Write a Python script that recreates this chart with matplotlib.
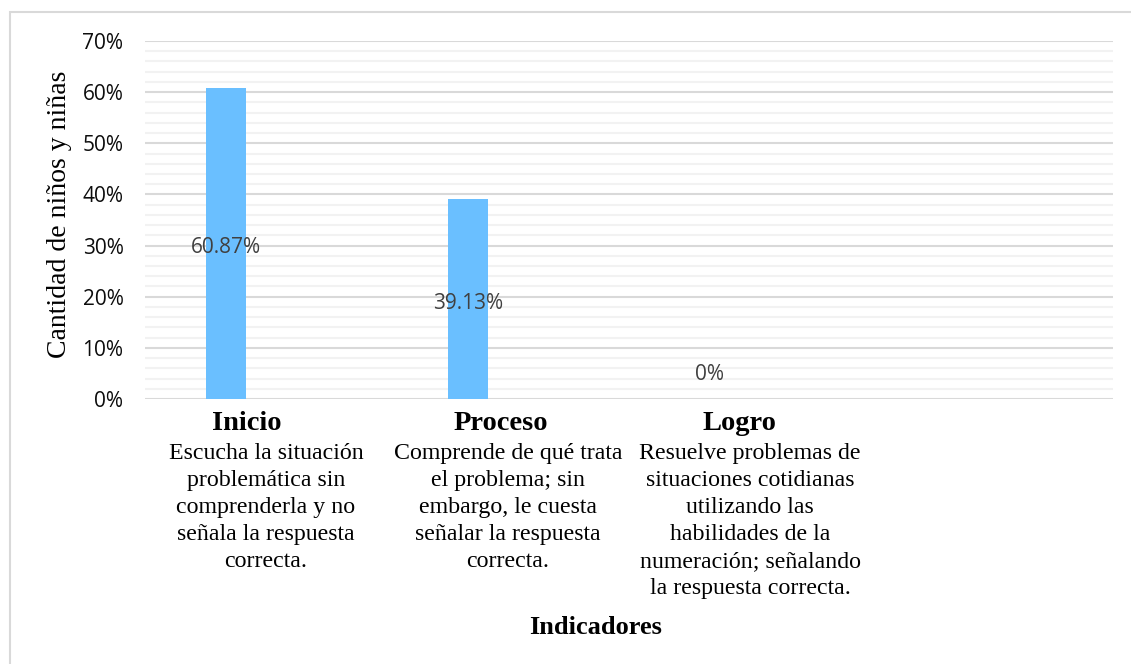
import matplotlib
matplotlib.use("Agg")
import matplotlib.pyplot as plt
from matplotlib.patches import Rectangle

categories = ["Inicio", "Proceso", "Logro", ""]
values = [60.87, 39.13, 0.0]
value_labels = ["60.87%", "39.13%", "0%"]
descriptions = [
    "Escucha la situación\nproblemática sin\ncomprenderla y no\nseñala la respuesta\ncorrecta.",
    "Comprende de qué trata\nel problema; sin\nembargo, le cuesta\nseñalar la respuesta\ncorrecta.",
    "Resuelve problemas de\nsituaciones cotidianas\nutilizando las\nhabilidades de la\nnumeración; señalando\nla respuesta correcta.",
]
yticks = [0, 10, 20, 30, 40, 50, 60, 70]
ytick_labels = ["0%", "10%", "20%", "30%", "40%", "50%", "60%", "70%"]

W, H = 1131, 664
fig = plt.figure(figsize=(W / 100, H / 100), dpi=100)
fig.patch.set_facecolor("white")

# outer chart-area border (only top/left visible)
fig.add_artist(Rectangle((10 / W, -0.01), 1.02, (H - 12) / H + 0.01,
                         transform=fig.transFigure, fill=False,
                         edgecolor="#d9d9d9", linewidth=1.5))

ax = fig.add_axes([145 / W, 1 - 399 / H, (1113 - 145) / W, (399 - 41) / H])
ax.set_xlim(-0.5, 3.5)
ax.set_ylim(0, 70)

for s in ax.spines.values():
    s.set_visible(False)

# gridlines
for v in range(2, 70, 2):
    if v % 10 != 0:
        ax.axhline(v, color="#f2f2f2", linewidth=1.5, zorder=0)
for v in yticks:
    ax.axhline(v, color="#d9d9d9", linewidth=1.5, zorder=1)

bar_w = 40 / 242
offset = -40 / 242
xs = [i + offset for i in range(len(values))]
ax.bar(xs, values, width=bar_w, color="#6abfff", zorder=2)

for x, v, lab in zip(xs, values, value_labels):
    y = v / 2 - 0.8 if v > 0 else 4.7
    ax.text(x, y, lab, ha="center", va="center", fontsize=15,
            color="#404040", family="Open Sans", zorder=3)

ax.set_yticks(yticks)
ax.set_yticklabels(ytick_labels, fontsize=15, family="Open Sans", color="#0d0d0d")
ax.tick_params(axis="y", length=0, pad=15.5)
ax.set_xticks([])

# category titles and descriptions
title_off = [-0.08, -0.03, -0.045]
for i, (cat, desc) in enumerate(zip(categories[:3], descriptions)):
    ax.text(i + title_off[i], -2.3, cat, ha="center", va="top",
            fontsize=20.5, fontweight="bold", family="Liberation Serif", color="black")
    ax.text(i, -8.6, desc, ha="center", va="top", fontsize=17.2,
            family="Liberation Serif", color="black", linespacing=1.37)

fig.text(596 / W, 1 - 628 / H, "Indicadores", ha="center", va="center",
         fontsize=19, fontweight="bold", family="Liberation Serif")
fig.text(60 / W, 1 - 214 / H, "Cantidad de niños y niñas", ha="center", va="center",
         rotation=90, fontsize=20, family="Liberation Serif")

fig.savefig("out.png", dpi=100, facecolor="white")
